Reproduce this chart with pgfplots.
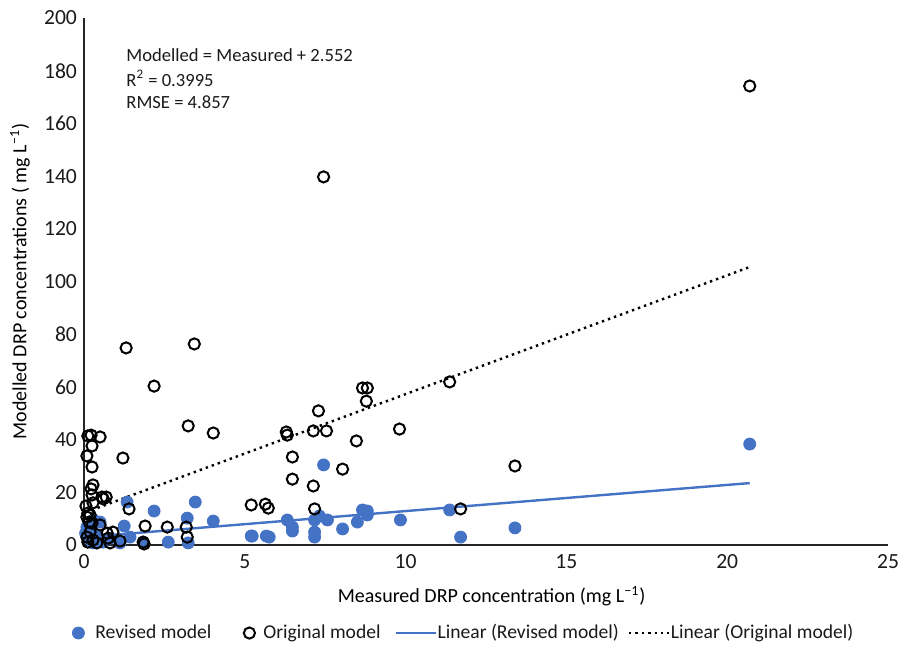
\documentclass[border=0pt]{standalone}
\usepackage{pgfplots}
\pgfplotsset{compat=1.18}
\usepackage{fontspec}
\setmainfont{Carlito}
\definecolor{exblue}{HTML}{4472C4}
\definecolor{txt}{HTML}{1A1A1A}
\begin{document}
\begin{tikzpicture}
\useasboundingbox (-42pt,-49.5pt) rectangle (409.5pt,272.5pt);
\begin{axis}[
  at={(0pt,0pt)}, anchor=south west,
  scale only axis,
  width=402pt, height=263.5pt,
  xmin=0, xmax=25, ymin=0, ymax=200,
  xtick={0,5,...,25}, ytick={0,20,...,200},
  axis lines*=left,
  axis line style={black!85, line width=0.9pt},
  major tick length=0pt,
  tick label style={font=\fontsize{10.8}{12}\selectfont, txt},
  xticklabel style={yshift=-1.3pt},
  /pgf/number format/assume math mode=true,
  xlabel={Measured DRP concentration (mg L\textsuperscript{−1})},
  ylabel={Modelled DRP concentrations ( mg L\textsuperscript{−1})},
  label style={font=\fontsize{11.3}{13}\selectfont, txt},
  every axis x label/.style={at={(axis description cs:0.507,-0.0968)}, anchor=center},
  every axis y label/.style={at={(axis description cs:-0.0796,0.5)}, anchor=center, rotate=90},
  clip=false,
  legend columns=4,
  legend style={at={(axis description cs:-0.0174,-0.167)}, anchor=west, draw=none,
    font=\fontsize{9.8}{12}\selectfont, text=txt, inner sep=0pt,
    nodes={inner xsep=0pt},
    /tikz/every even column/.append style={column sep=0pt}},
  legend cell align=left,
]
\addplot[only marks, mark=*, mark size=3pt, exblue, mark options={draw=exblue, fill=exblue},
  legend image code/.code={\path[draw=none, fill=none] (0pt,-3pt) rectangle (12.5pt,3pt);
    \path plot[only marks] coordinates {(4pt,0pt)};}] coordinates {
(20.7,38.3) (7.45,30.4) (6.32,9.5) (6.48,6.8) (6.48,5.3) (7.17,9.5) (7.32,11.0) (7.57,9.5)
(7.17,4.9) (7.17,3.0) (8.04,6.1) (8.5,8.7) (8.66,13.3) (8.81,12.9) (8.81,11.4) (9.84,9.5)
(11.37,13.3) (11.71,3.0) (13.4,6.5) (5.2,3.4) (5.67,3.4) (5.76,3.0)
(1.34,16.3) (3.46,16.3) (2.18,12.9) (3.21,10.2) (4.02,9.1) (1.25,7.2) (0.5,8.7) (0.25,6.8)
(0.12,3.0) (0.4,3.8) (0.81,2.6) (1.43,3.0) (1.12,0.8) (1.84,1.1) (2.62,1.1) (3.24,0.8)
(5.23,3.4) (0.09,6.8) (0.28,0.8) (0.59,1.1) (0.2,2.0) (0.05,4.5) (0.3,9.5)
};
\addlegendentry{Revised model}
\addplot[only marks, mark=o, mark size=2.8pt, black, mark options={line width=1pt},
  legend image code/.code={\path[draw=none, fill=none] (0pt,-3pt) rectangle (26pt,3pt);
    \path plot[only marks] coordinates {(19pt,0pt)};}] coordinates {
(20.7,174.2) (7.45,139.7) (1.31,74.8) (3.43,76.3) (2.18,60.3) (3.24,45.2) (4.02,42.5)
(11.37,61.9) (8.66,59.6) (8.81,59.6) (8.78,54.6) (7.29,50.9) (6.29,42.9) (6.32,41.7)
(7.13,43.3) (7.54,43.3) (9.81,44.0) (8.47,39.5) (6.48,33.4) (8.04,28.8) (13.4,30.0)
(6.48,25.0) (7.13,22.4) (5.2,15.2) (5.64,15.5) (5.73,14.0) (7.17,13.7) (11.71,13.7)
(0.12,41.4) (0.22,41.7) (0.5,41.0) (0.25,37.6) (0.09,33.8) (1.21,33.0) (0.25,29.6)
(0.28,22.8) (0.22,21.3) (0.25,19.0) (0.56,18.2) (0.69,18.2) (0.6,17.5) (0.28,16.0)
(1.40,13.7) (0.06,14.8) (0.12,12.1) (0.19,11.4) (0.09,10.6) (1.9,7.2) (2.59,6.8)
(3.18,6.8) (3.21,3.0) (0.5,7.6) (0.16,8.7) (0.25,8.3) (0.9,4.9) (0.72,4.5) (0.75,2.6)
(1.12,1.5) (1.84,1.1) (1.87,0.4) (0.28,1.9) (0.4,0.8) (0.81,0.8) (0.12,1.1) (0.09,3.0)
(0.19,4.9)
};
\addlegendentry{Original model}
\addplot[exblue, line width=1.2pt, no marks,
  legend image code/.code={\path[draw=none, fill=none] (0pt,-3pt) rectangle (28.5pt,3pt);
    \draw (7.5pt,0pt) -- (27.5pt,0pt);}] coordinates {(0.05,3.0) (20.7,23.5)};
\addlegendentry{Linear (Revised model)}
\addplot[black, line width=1.2pt, dotted, no marks,
  legend image code/.code={\path[draw=none, fill=none] (0pt,-3pt) rectangle (26pt,3pt);
    \draw (5pt,0pt) -- (25pt,0pt);}] coordinates {(0.05,12.4) (20.7,105.5)};
\addlegendentry{Linear (Original model)}
\node[anchor=west, font=\fontsize{9.3}{11}\selectfont, txt] at (axis cs:1.1,186) {Modelled = Measured + 2.552};
\node[anchor=west, font=\fontsize{9.3}{11}\selectfont, txt] at (axis cs:1.1,177.1) {R\textsuperscript{2} = 0.3995};
\node[anchor=west, font=\fontsize{9.3}{11}\selectfont, txt] at (axis cs:1.1,168.2) {RMSE = 4.857};
\end{axis}
\end{tikzpicture}
\end{document}
